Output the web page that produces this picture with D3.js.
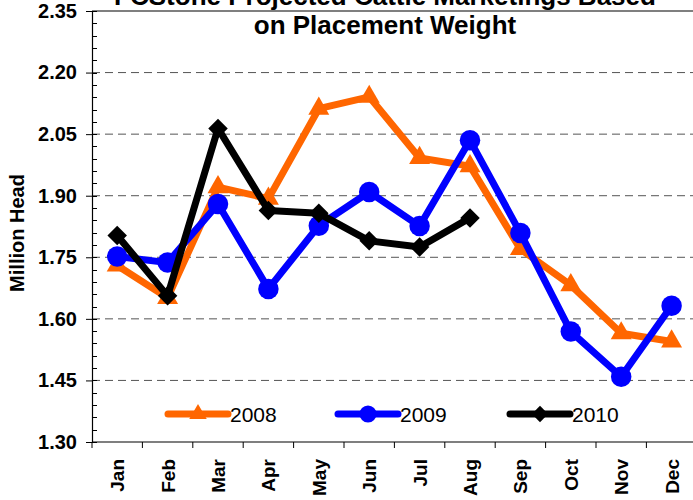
<!DOCTYPE html>
<html>
<head>
<meta charset="utf-8">
<script src="https://cdn.jsdelivr.net/npm/d3@7"></script>
<style>
  html, body { margin: 0; padding: 0; background: #fff; }
  svg { display: block; font-family: "Liberation Sans", Arial, sans-serif; }
</style>
</head>
<body>
<div id="chart"></div>
<script>
var months = ['Jan', 'Feb', 'Mar', 'Apr', 'May', 'Jun', 'Jul', 'Aug', 'Sep', 'Oct', 'Nov', 'Dec'];
var v2008 = [1.730, 1.651, 1.921, 1.893, 2.112, 2.141, 1.992, 1.972, 1.770, 1.682, 1.565, 1.545];
var v2009 = [1.752, 1.737, 1.880, 1.673, 1.827, 1.909, 1.826, 2.035, 1.809, 1.569, 1.459, 1.632];
var v2010 = [1.803, 1.656, 2.064, 1.864, 1.857, 1.790, 1.775, 1.846];
var yTicks = [1.30, 1.45, 1.60, 1.75, 1.90, 2.05, 2.20, 2.35];

(function () {
  var W = 693, H = 500;
  var left = 92, top = 11, bottom = 442, bandW = 50.4;

  var svg = d3.select('#chart').append('svg')
    .attr('width', W).attr('height', H);

  var x = d3.scaleBand().domain(months).range([left, left + bandW * 12]).padding(0);
  var y = d3.scaleLinear().domain([1.30, 2.35]).range([bottom, top]);
  var cx = function (i) { return x(months[i]) + x.bandwidth() / 2; };

  // dashed gridlines
  svg.append('g').selectAll('line')
    .data(yTicks.slice(1, -1))
    .enter().append('line')
    .attr('x1', left).attr('x2', W)
    .attr('y1', function (d) { return y(d); }).attr('y2', function (d) { return y(d); })
    .attr('stroke', '#555').attr('stroke-width', 1)
    .attr('stroke-dasharray', '8,5');

  // top border
  svg.append('line')
    .attr('x1', left).attr('x2', W).attr('y1', y(2.35)).attr('y2', y(2.35))
    .attr('stroke', '#000').attr('stroke-width', 1.2);

  // y axis with minor ticks inside
  var minor = d3.range(0, 36).map(function (i) { return 1.30 + i * 0.03; });
  svg.append('g').selectAll('line')
    .data(minor)
    .enter().append('line')
    .attr('x1', left).attr('x2', left + 5)
    .attr('y1', function (d) { return Math.round(y(d)) + 0.5; })
    .attr('y2', function (d) { return Math.round(y(d)) + 0.5; })
    .attr('stroke', '#000').attr('stroke-width', 1);

  var yAxis = svg.append('g')
    .attr('transform', 'translate(' + left + ',0)')
    .call(d3.axisLeft(y).tickValues(yTicks).tickFormat(d3.format('.2f')).tickSize(6).tickPadding(9));
  yAxis.select('.domain').attr('stroke', '#000').attr('stroke-width', 1.2);
  yAxis.selectAll('text')
    .attr('font-size', 20).attr('font-weight', 'bold').attr('fill', '#000')
    .style('font-family', '"Liberation Sans", Arial, sans-serif');

  // x axis
  var xAxis = svg.append('g')
    .attr('transform', 'translate(0,' + bottom + ')');
  xAxis.append('line')
    .attr('x1', left).attr('x2', W).attr('y1', 0).attr('y2', 0)
    .attr('stroke', '#000').attr('stroke-width', 1.2);
  xAxis.selectAll('line.tk')
    .data(months)
    .enter().append('line')
    .attr('class', 'tk')
    .attr('x1', function (d) { return x(d); }).attr('x2', function (d) { return x(d); })
    .attr('y1', 0).attr('y2', 6)
    .attr('stroke', '#000').attr('stroke-width', 1);
  xAxis.selectAll('text')
    .data(months)
    .enter().append('text')
    .attr('transform', function (d) {
      return 'translate(' + (x(d) + x.bandwidth() / 2 + 7) + ',17) rotate(-90)';
    })
    .attr('text-anchor', 'end')
    .attr('font-size', 19).attr('font-weight', 'bold')
    .text(function (d) { return d; });

  // axis title
  svg.append('text')
    .attr('transform', 'translate(24,233) rotate(-90)')
    .attr('text-anchor', 'middle')
    .attr('font-size', 20).attr('font-weight', 'bold')
    .text('Million Head');

  // title
  svg.append('text')
    .attr('x', 385).attr('y', 5)
    .attr('text-anchor', 'middle')
    .attr('font-size', 26).attr('font-weight', 'bold')
    .text('FCStone Projected Cattle Marketings Based');
  svg.append('text')
    .attr('x', 385).attr('y', 34)
    .attr('text-anchor', 'middle')
    .attr('font-size', 26).attr('font-weight', 'bold')
    .text('on Placement Weight');

  var series = [
    { name: '2008', values: v2008, color: '#FF6600', shape: 'tri' },
    { name: '2009', values: v2009, color: '#0000FF', shape: 'circle' },
    { name: '2010', values: v2010, color: '#000000', shape: 'diamond' }
  ];

  function symbolPath(shape, scale) {
    if (shape === 'tri') return d3.symbol().type(d3.symbolTriangle).size(190 * scale)();
    if (shape === 'circle') return d3.symbol().type(d3.symbolCircle).size(330 * scale)();
    return d3.symbol().type(d3.symbolSquare).size(190 * scale)();
  }

  var line = d3.line()
    .x(function (d, i) { return cx(i); })
    .y(function (d) { return y(d); });

  series.forEach(function (s) {
    var g = svg.append('g');
    g.append('path')
      .datum(s.values)
      .attr('fill', 'none')
      .attr('stroke', s.color)
      .attr('stroke-width', 7)
      .attr('stroke-linejoin', 'round')
      .attr('d', line);
    g.selectAll('path.mk')
      .data(s.values)
      .enter().append('path')
      .attr('class', 'mk')
      .attr('d', symbolPath(s.shape, 1))
      .attr('fill', s.color)
      .attr('transform', function (d, i) {
        return 'translate(' + cx(i) + ',' + y(d) + ')' + (s.shape === 'diamond' ? ' rotate(45)' : '');
      });
  });

  // legend
  var legendX = [168, 338, 510];
  series.forEach(function (s, i) {
    var lg = svg.append('g').attr('transform', 'translate(' + legendX[i] + ',414)');
    lg.append('line')
      .attr('x1', 0).attr('x2', 60).attr('y1', 0).attr('y2', 0)
      .attr('stroke', s.color).attr('stroke-width', 7).attr('stroke-linecap', 'round');
    lg.append('path')
      .attr('d', symbolPath(s.shape, 0.7))
      .attr('fill', s.color)
      .attr('transform', 'translate(30,0)' + (s.shape === 'diamond' ? ' rotate(45)' : ''));
    lg.append('text')
      .attr('x', 62).attr('y', 8)
      .attr('font-size', 21)
      .text(s.name);
  });
})();
</script>
</body>
</html>
